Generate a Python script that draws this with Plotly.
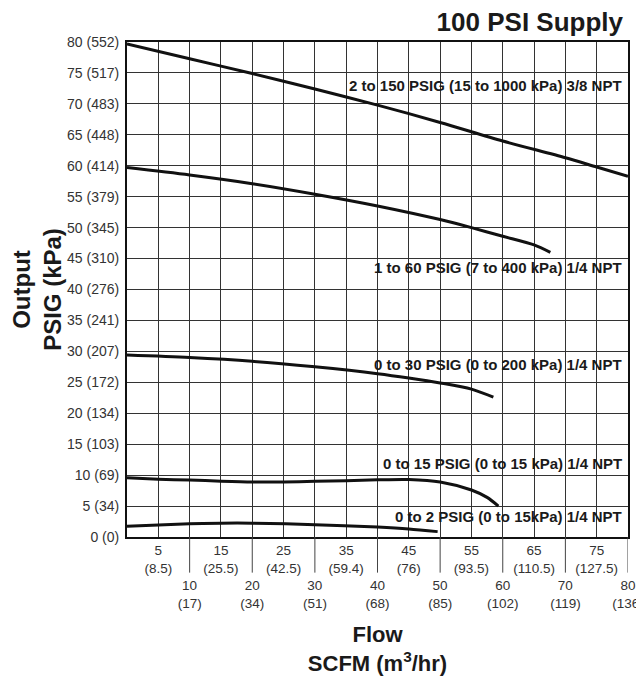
import plotly.graph_objects as go

# ---- data (SCFM flow vs output PSIG) ----
flow_150 = [0, 10, 20, 30, 40, 50, 60, 70, 75, 80]
psig_150 = [79.7, 77.3, 74.9, 72.4, 69.8, 67.0, 64.0, 61.3, 59.8, 58.3]

flow_60 = [0, 10, 20, 30, 40, 50, 55, 60, 65, 67.6]
psig_60 = [59.7, 58.5, 57.1, 55.4, 53.5, 51.3, 50.0, 48.6, 47.2, 46.0]

flow_30 = [0, 10, 20, 30, 40, 45, 50, 55, 58.5]
psig_30 = [29.4, 29.0, 28.4, 27.5, 26.4, 25.7, 24.9, 23.9, 22.6]

flow_15 = [0, 5, 10, 15, 20, 25, 30, 35, 40, 45, 50, 55, 57.5, 59.3]
psig_15 = [9.57, 9.35, 9.2, 9.03, 8.9, 8.9, 9.0, 9.1, 9.25, 9.3, 8.9, 7.6, 6.4, 5.0]

flow_2 = [0, 10, 15, 20, 30, 40, 45, 49.6]
psig_2 = [1.75, 2.13, 2.24, 2.24, 2.0, 1.6, 1.3, 0.87]

series_names = [
    "2 to 150 PSIG (15 to 1000 kPa) 3/8 NPT",
    "1 to 60 PSIG (7 to 400 kPa) 1/4 NPT",
    "0 to 30 PSIG (0 to 200 kPa) 1/4 NPT",
    "0 to 15 PSIG (0 to 15 kPa) 1/4 NPT",
    "0 to 2 PSIG (0 to 15kPa) 1/4 NPT",
]
label_y = [73.0, 43.6, 27.8, 11.8, 3.3]
label_x = 79.3

x_tick_vals = [5, 10, 15, 20, 25, 30, 35, 40, 45, 50, 55, 60, 65, 70, 75, 80]
x_tick_m3 = ["8.5", "17", "25.5", "34", "42.5", "51", "59.4", "68", "76", "85",
             "93.5", "102", "110.5", "119", "127.5", "136"]
long_tick_vals = [10, 20, 30, 40, 50, 60, 70, 80]

y_tick_vals = [0, 5, 10, 15, 20, 25, 30, 35, 40, 45, 50, 55, 60, 65, 70, 75, 80]
y_tick_kpa = ["0", "34", "69", "103", "134", "172", "207", "241", "276", "310",
              "345", "379", "414", "448", "483", "517", "552"]

FONT = "Liberation Sans, Arial, sans-serif"
PAGE_OFFSET = 8  # default body margin of the html page

fig = go.Figure()
for fx, fy, nm in [(flow_150, psig_150, series_names[0]),
                   (flow_60, psig_60, series_names[1]),
                   (flow_30, psig_30, series_names[2]),
                   (flow_15, psig_15, series_names[3]),
                   (flow_2, psig_2, series_names[4])]:
    fig.add_trace(go.Scatter(x=fx, y=fy, mode="lines", name=nm,
                             line=dict(color="#111111", width=3, shape="spline", smoothing=0.8),
                             showlegend=False, hoverinfo="skip"))

x_text = []
for v, m in zip(x_tick_vals, x_tick_m3):
    if v % 10 == 0:
        x_text.append(f"<br><br>{v}<br>({m})")
    else:
        x_text.append(f"{v}<br>({m})")

y_text = [f"{v} ({k})" for v, k in zip(y_tick_vals, y_tick_kpa)]

annotations = []
for nm, ly in zip(series_names, label_y):
    annotations.append(dict(x=label_x, y=ly, xref="x", yref="y", text=nm,
                            showarrow=False, xanchor="right", yanchor="middle",
                            font=dict(family=FONT, size=15, color="#1a1a1a", weight="bold")))

shapes = []
for v in long_tick_vals:
    shapes.append(dict(type="line", xref="x", yref="paper", x0=v, x1=v, y0=0, y1=-0.072,
                       line=dict(color="#444444", width=1)))

W, H = 644, 679
fig.update_layout(
    width=W, height=H,
    margin=dict(l=127 - PAGE_OFFSET, r=W - (628 - PAGE_OFFSET),
                t=42 - PAGE_OFFSET, b=H - (537 - PAGE_OFFSET), autoexpand=False),
    paper_bgcolor="white", plot_bgcolor="white",
    font=dict(family=FONT, color="#333333"),
    title=dict(text="100 PSI Supply", x=(623 - PAGE_OFFSET) / W, xanchor="right", xref="container",
               y=1 - (22 - PAGE_OFFSET) / H, yanchor="middle", yref="container",
               font=dict(family=FONT, size=26, color="#1a1a1a", weight="bold")),
    xaxis=dict(range=[0, 80], tickmode="array", tickvals=x_tick_vals, ticktext=x_text,
               ticks="", showgrid=True, gridcolor="#333333", gridwidth=1,
               showline=True, linecolor="#111111", linewidth=2, mirror=True,
               zeroline=False, tickangle=0, ticklabeloverflow="allow", automargin=False,
               tickfont=dict(family=FONT, size=13.5, color="#333333"),
               title=dict(text="Flow<br>SCFM (m<sup>3</sup>/hr)", standoff=17,
                          font=dict(family=FONT, size=22, color="#1a1a1a", weight="bold"))),
    yaxis=dict(range=[0, 80], tickmode="array", tickvals=y_tick_vals, ticktext=y_text,
               ticks="", ticklabelstandoff=3, showgrid=True, gridcolor="#333333", gridwidth=1,
               showline=True, linecolor="#111111", linewidth=2, mirror=True,
               zeroline=False, automargin=False,
               tickfont=dict(family=FONT, size=14, color="#333333"),
               title=dict(text="Output<br>PSIG (kPa)", standoff=10,
                          font=dict(family=FONT, size=24, color="#1a1a1a", weight="bold"))),
    annotations=annotations,
    shapes=shapes,
)

fig.write_html("out.html")
